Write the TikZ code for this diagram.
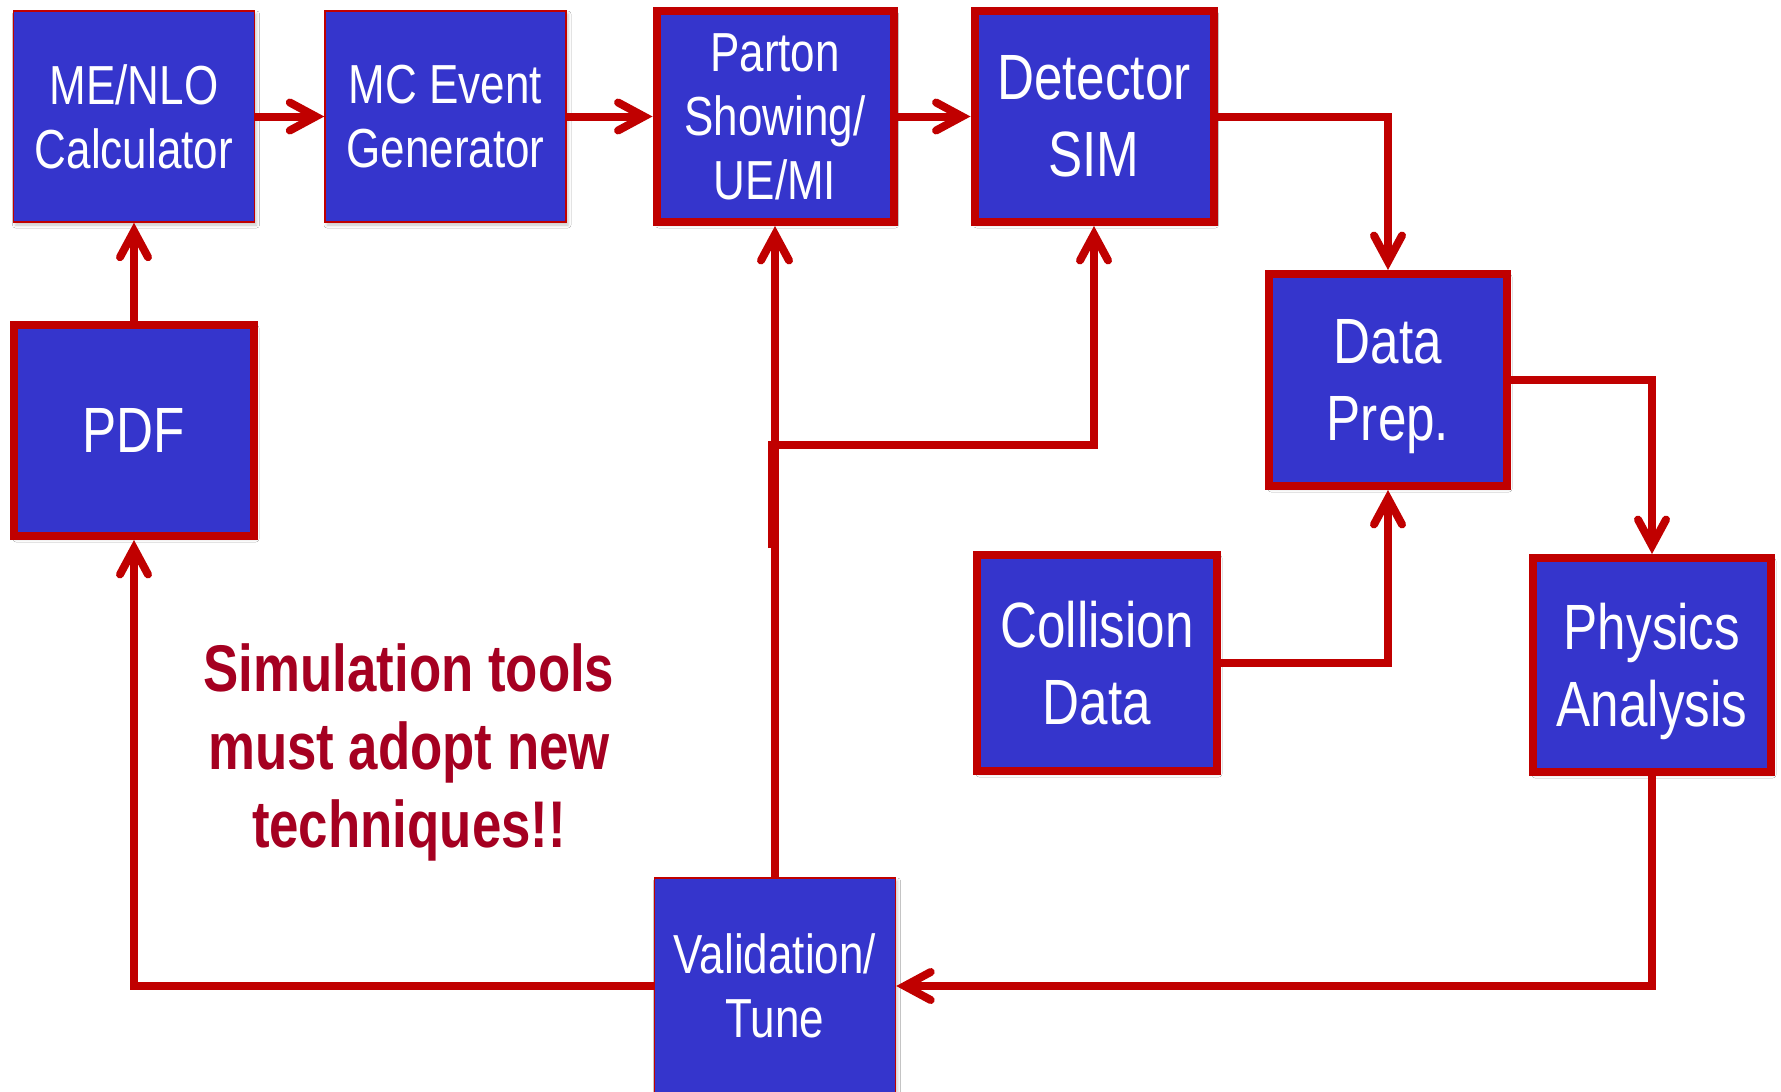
\documentclass[tikz,border=0pt]{standalone}
\usepackage{fontspec}
\setmainfont{Liberation Sans}[FakeStretch=0.8]
\usetikzlibrary{arrows.meta,shadows.blur}
\definecolor{boxblue}{HTML}{3535CC}
\definecolor{linered}{HTML}{C00000}
\definecolor{notered}{HTML}{A50021}

\begin{document}
\begin{tikzpicture}[x=1pt,y=-1pt,
  blk/.style={fill=boxblue, draw=linered, text=white, align=center, inner sep=0pt,
    blur shadow={shadow xshift=2pt, shadow yshift=-3pt, shadow blur radius=3pt, shadow opacity=22}},
  thinbox/.style={blk, line width=1.5pt},
  thickbox/.style={blk, line width=8pt},
  smalltxt/.style={font=\fontsize{55}{64}\selectfont},
  bigtxt/.style={font=\fontsize{64}{77}\selectfont},
  wire/.style={draw=linered, line width=8pt},
  flow/.style={wire, -{Straight Barb[length=26pt,width=28pt,line cap=round]}}
]
\useasboundingbox[fill=white] (0,0) rectangle (1781,1092);

% boxes (the last line is smashed so the caps sit centred)
\node[thinbox, smalltxt, minimum width=241pt, minimum height=211pt] (me) at (134,116.5) {ME/NLO\\Calculator};
\node[thinbox, smalltxt, minimum width=241pt, minimum height=211pt] (mc) at (445.5,116.5) {MC Event\\Generator};
\node[thickbox, smalltxt, minimum width=237pt, minimum height=211pt] (ps) at (775,116.5) {Parton\\Showing/\\UE/MI};
\node[thickbox, bigtxt, minimum width=239pt, minimum height=211pt] (det) at (1094,116.5) {Detector\\SIM};
\node[thickbox, bigtxt, minimum width=238pt, minimum height=212pt] (prep) at (1388,380) {Data\\\smash{Prep.}};
\node[thickbox, bigtxt, minimum width=240pt, minimum height=211pt] (pdf) at (134,430.5) {PDF};
\node[thickbox, bigtxt, minimum width=240pt, minimum height=216pt] (coll) at (1097,663) {Collision\\Data};
\node[thickbox, bigtxt, minimum width=238pt, minimum height=214pt] (phys) at (1652,665) {Physics\\\smash{Analysis}};
\node[thinbox, smalltxt, minimum width=241pt, minimum height=216pt] (val) at (775,986) {Validation/\\Tune};

% message
\node[text=notered, align=center, font=\fontsize{66}{78}\bfseries\selectfont] (msg) at (409,752)
  {Simulation tools\\must adopt new\\techniques!!};

% connectors
\draw[flow] (me) -- (mc);
\draw[flow] (mc) -- (ps);
\draw[flow] (ps) -- (det);
\draw[flow] (det.east) -| (prep.north);
\draw[flow] (prep.east) -| (phys.north);
\draw[flow] (coll.east) -| (prep.south);
\draw[flow] (phys.south) |- (val.east);
\draw[flow] (val.west) -| (pdf.south);
\draw[flow] (pdf.north) -- (me.south);
\draw[flow] (val.north) -- (ps.south);
% branch towards the detector simulation, laid over the feedback line
\coordinate (branch) at (772,548);
\coordinate (split) at (772,445);
\draw[flow] (branch) -- (split) -| (det.south);
\end{tikzpicture}
\end{document}
